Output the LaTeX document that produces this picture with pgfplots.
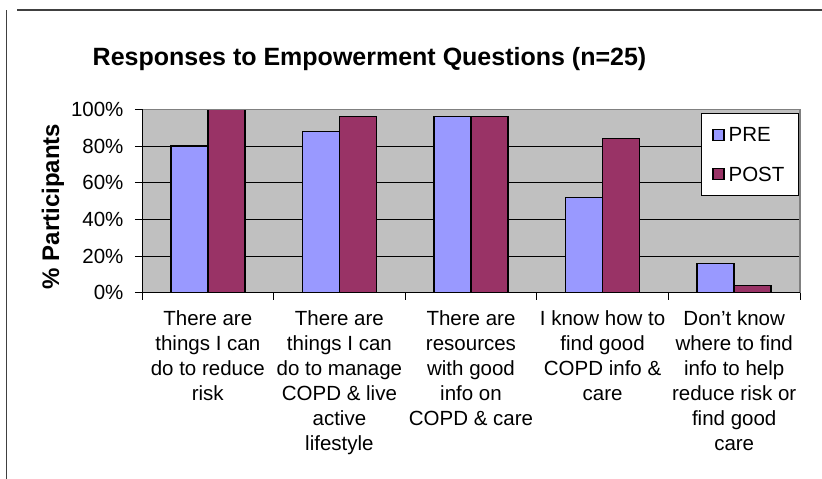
\documentclass[border=0pt]{standalone}
\usepackage{pgfplots}
\pgfplotsset{compat=1.18}
\usepackage{fontspec}
\setmainfont{Liberation Sans}
\definecolor{pre}{HTML}{9999FF}
\definecolor{post}{HTML}{993366}
\definecolor{plotbg}{HTML}{C0C0C0}
\definecolor{frm}{HTML}{808080}
\begin{document}
\begin{tikzpicture}
\path[use as bounding box] (0,0) rectangle (822pt,479pt);
\draw[line width=1.5pt, color=black!75] (6.5pt,0) -- (6.5pt,469pt);
\draw[line width=1.5pt, color=black!75] (17pt,469pt) -- (822pt,469pt);
\node[anchor=base, font=\fontsize{25}{30}\selectfont\bfseries] at (369.5pt,413pt) {Responses to Empowerment Questions (n=25)};
\begin{axis}[
  at={(142pt,186.3pt)}, anchor=south west,
  scale only axis, width=658pt, height=183.4pt,
  xmin=-0.5, xmax=4.5, ymin=0, ymax=100,
  ybar=0pt, bar width=37pt,
  clip=false,
  axis line style={draw=none},
  axis background/.style={fill=plotbg},
  tick align=outside,
  major tick length=7pt, minor tick length=7pt,
  xtick pos=bottom, ytick pos=left,
  tick style={black, line width=0.8pt},
  xtick={0,1,2,3,4},
  major x tick style={draw=none},
  minor xtick={-0.5,0.5,1.5,2.5,3.5,4.5},
  xticklabels={{There are\\things I can\\do to reduce\\risk},
               {There are\\things I can\\do to manage\\COPD \& live\\active\\lifestyle},
               {There are\\resources\\with good\\info on\\COPD \& care},
               {I know how to\\find good\\COPD info \&\\care},
               {Don’t know\\where to find\\info to help\\reduce risk or\\find good\\care}},
  xticklabel style={font=\fontsize{20.5}{25}\selectfont, align=center, anchor=north, inner sep=0pt, yshift=-11pt},
  ytick={0,20,40,60,80,100},
  yticklabel={\pgfmathprintnumber{\tick}\%},
  /pgf/number format/assume math mode=true,
  yticklabel style={font=\fontsize{20.5}{25}\selectfont, xshift=-8pt},
  ymajorgrids,
  grid style={black, line width=0.8pt},
  ylabel={\% Participants},
  ylabel style={at={(axis description cs:-0.1353,0.47)}, anchor=center, font=\fontsize{24}{28}\selectfont\bfseries},
  legend image code/.code={\draw[#1, draw=black, line width=1.2pt] (0pt,-5.5pt) rectangle (11pt,5.5pt);},
  legend style={at={(axis description cs:0.9985,0.98)}, anchor=north east,
    draw=black, line width=0.8pt, fill=white,
    inner xsep=11pt, inner ysep=14.5pt, row sep=25pt,
    nodes={inner sep=0pt, text depth=0pt, font=\fontsize{20.5}{25}\selectfont},
    /tikz/every odd column/.append style={column sep=4pt}},
]
\addplot[fill=pre, draw=black, line width=1.5pt] coordinates {(0,80) (1,88) (2,96) (3,52) (4,16)};
\addplot[fill=post, draw=black, line width=1.5pt] coordinates {(0,100) (1,96) (2,96) (3,84) (4,4)};
\legend{\makebox[59pt][l]{PRE},\makebox[59pt][l]{POST}}
\draw[frm, line width=1.5pt] (rel axis cs:0,1) -- (rel axis cs:1,1) -- (rel axis cs:1,0);
\draw[black, line width=1pt] (rel axis cs:0,1) -- (rel axis cs:0,0) -- (rel axis cs:1,0);
\end{axis}
\end{tikzpicture}
\end{document}
